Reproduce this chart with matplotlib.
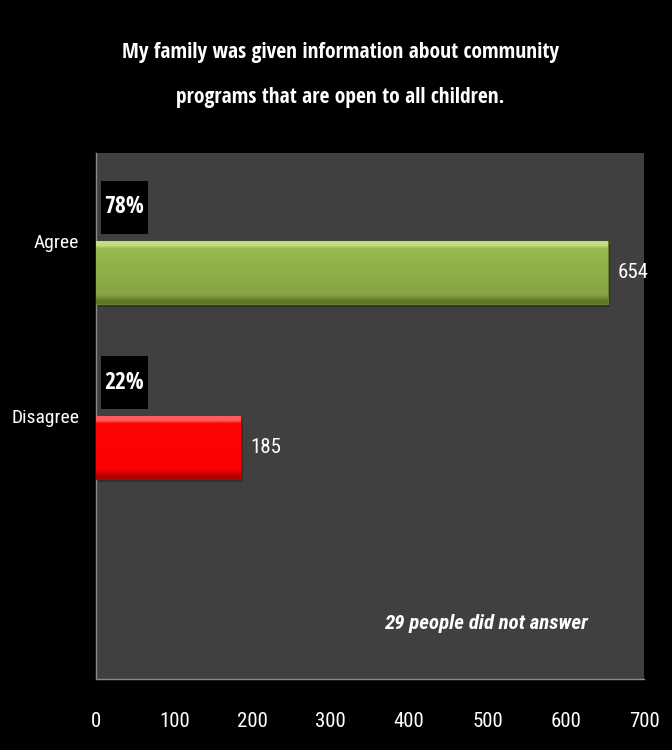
import matplotlib
matplotlib.use("Agg")
import matplotlib.pyplot as plt
from matplotlib import font_manager
from matplotlib.colors import LinearSegmentedColormap
from matplotlib.patches import Rectangle
import numpy as np

# survey responses
categories = ["Agree", "Disagree"]
counts = [654, 185]
no_answer = 29
title = "My family was given information about community\nprograms that are open to all children."
xticks = [0, 100, 200, 300, 400, 500, 600, 700]

# light edge, face top, face bottom, dark edge
bar_shades = [["#c2e07c", "#97b94f", "#86a543", "#5e7726"],
              ["#ff5c5c", "#ff0505", "#fa0000", "#b00000"]]
bar_edges = ["#6a8530", "#c00000"]


def pick_font(candidates, default="DejaVu Sans"):
    names = set(f.name for f in font_manager.fontManager.ttflist)
    for name in candidates:
        if name in names:
            return name
    return default


narrow = pick_font(["Roboto Condensed", "Liberation Sans Narrow", "Lato"])
bold_narrow = pick_font(["Open Sans Condensed", "Roboto Condensed", "Lato"])
plt.rcParams["font.family"] = narrow

fig = plt.figure(figsize=(6.72, 7.5), dpi=100, facecolor="black")
ax = fig.add_axes([96 / 672, 1 - 679 / 750, 548 / 672, 526 / 750])
ax.set_facecolor("#404040")

slots = np.arange(len(categories))
offset = 0.18
height = 0.36
total = sum(counts)

for i, (cat, val) in enumerate(zip(categories, counts)):
    yc = slots[i] + offset
    # soft drop shadow
    ax.barh(yc + 0.018, val, height=height, left=3, color="#303030", zorder=2)
    bar = ax.barh(yc, val, height=height, color=bar_shades[i][1],
                  edgecolor=bar_edges[i], linewidth=0.8, zorder=3)[0]
    # bevel shading: thin light rim on top, darker rim at the bottom
    grad = np.linspace(0, 1, 128).reshape(-1, 1)
    s = bar_shades[i]
    cmap = LinearSegmentedColormap.from_list(
        "bevel", [(0.0, s[0]), (0.08, s[0]), (0.13, s[1]), (0.86, s[2]), (0.95, s[3]), (1.0, s[3])])
    img = ax.imshow(grad, cmap=cmap, aspect="auto", zorder=4,
                    extent=(0, val, yc + height / 2, yc - height / 2))
    img.set_clip_path(bar)
    ax.text(val + 12, yc, str(val), color="white", fontsize=15,
            va="center", ha="left", zorder=5)
    # percentage badge above the bar
    by = slots[i] - 0.19
    ax.add_patch(Rectangle((6.4, by - 0.15), 60, 0.30, facecolor="black",
                           edgecolor="none", zorder=5))
    pct = "%d%%" % round(100.0 * val / total)
    ax.text(36.4, by, pct, color="white", fontsize=17, fontweight="bold",
            family=bold_narrow, va="center", ha="center", zorder=6)

ax.set_xlim(0, 700)
ax.set_ylim(2.5, -0.5)
ax.set_xticks(xticks)
ax.set_xticklabels([str(t) for t in xticks], color="white", fontsize=15)
ax.set_yticks(slots)
ax.set_yticklabels(categories, color="white", fontsize=14)
ax.tick_params(axis="x", length=0, pad=24)
ax.tick_params(axis="y", length=0, pad=12)

for side in ["top", "right"]:
    ax.spines[side].set_visible(False)
for side in ["left", "bottom"]:
    ax.spines[side].set_color("#8a8a8a")
    ax.spines[side].set_linewidth(1)

ax.text(0.898, 0.106, "%d people did not answer" % no_answer, transform=ax.transAxes,
        color="white", fontsize=15, fontweight="bold", fontstyle="italic",
        ha="right", va="center")

fig.text(340 / 672, 1 - 75 / 750, title, color="white", fontsize=15.5,
         fontweight="bold", family=bold_narrow, ha="center", va="center",
         linespacing=2.45)

fig.savefig("out.png", dpi=100, facecolor="black")
